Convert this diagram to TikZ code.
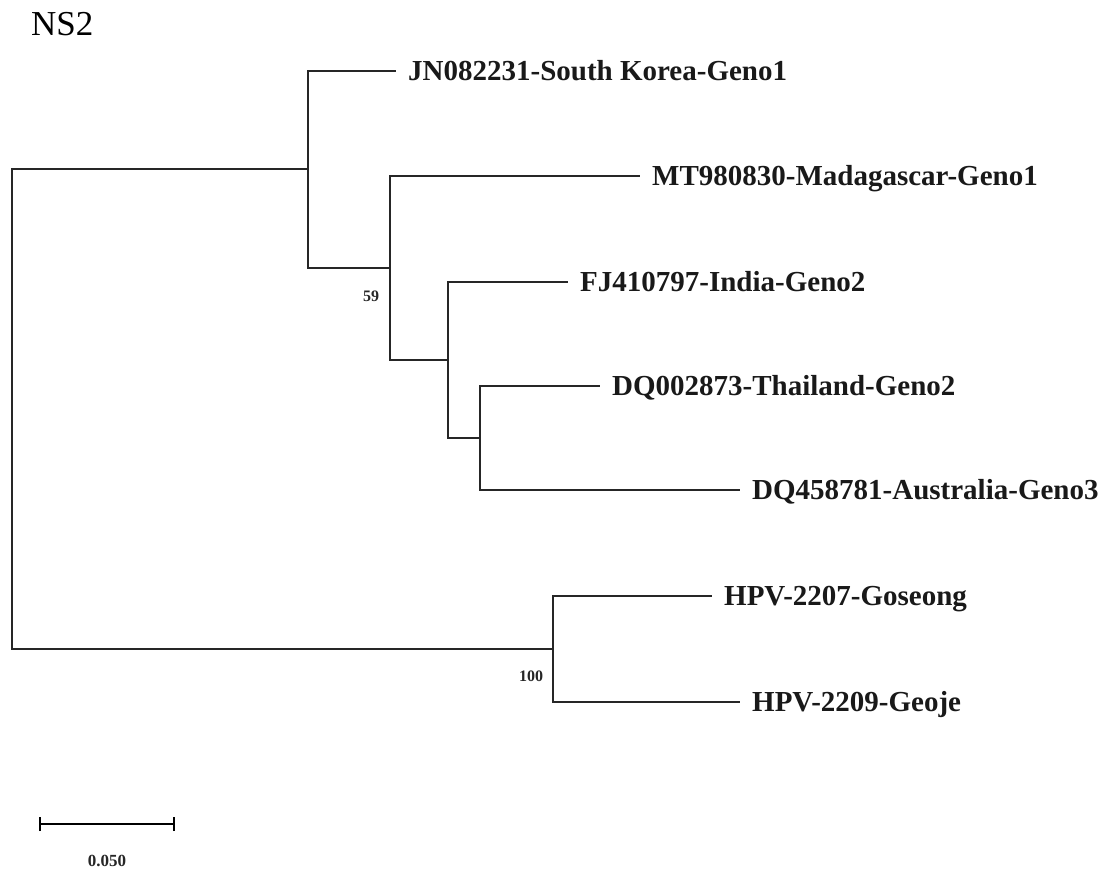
\documentclass[tikz,border=0pt]{standalone}
\usepackage{fontspec}
\setmainfont{Liberation Serif}
\begin{document}
\begin{tikzpicture}[x=1pt,y=-1pt,
  edge/.style={draw=black!85, line width=1.7pt},
  leaf/.style={anchor=base west, inner sep=0pt, xshift=12pt, yshift=-9.5pt, font=\fontsize{29}{29}\selectfont\bfseries, text=black!90},
  boot/.style={inner sep=0pt, font=\fontsize{16}{16}\selectfont\bfseries, text=black!85},
  title/.style={anchor=base west, inner sep=0pt, font=\fontsize{35}{35}\selectfont}]
\useasboundingbox (0,0) rectangle (1103,873);
\node[title] (ttl) at (31,35) {NS2};
% internal nodes
\coordinate (root) at (12,409);
\coordinate (A) at (308,169);
\coordinate (B) at (390,268);
\coordinate (C) at (448,360);
\coordinate (D) at (480,438);
\coordinate (E) at (553,649);
% leaf tips
\coordinate (t1) at (396,71);
\coordinate (t2) at (640,176);
\coordinate (t3) at (568,282);
\coordinate (t4) at (600,386);
\coordinate (t5) at (740,490);
\coordinate (t6) at (712,596);
\coordinate (t7) at (740,702);
% edges
\draw[edge] (root) |- (A);
\draw[edge] (root) |- (E);
\draw[edge] (A) |- (t1);
\draw[edge] (A) |- (B);
\draw[edge] (B) |- (t2);
\draw[edge] (B) |- (C);
\draw[edge] (C) |- (t3);
\draw[edge] (C) |- (D);
\draw[edge] (D) |- (t4);
\draw[edge] (D) |- (t5);
\draw[edge] (E) |- (t6);
\draw[edge] (E) |- (t7);
% labels
\node[leaf] (l1) at (t1) {JN082231-South Korea-Geno1};
\node[leaf] (l2) at (t2) {MT980830-Madagascar-Geno1};
\node[leaf] (l3) at (t3) {FJ410797-India-Geno2};
\node[leaf] (l4) at (t4) {DQ002873-Thailand-Geno2};
\node[leaf] (l5) at (t5) {DQ458781-Australia-Geno3};
\node[leaf] (l6) at (t6) {HPV-2207-Goseong};
\node[leaf] (l7) at (t7) {HPV-2209-Geoje};
% bootstrap
\node[boot] (b59) at (371,296) {59};
\node[boot] (b100) at (531,676) {100};
% scale bar
\coordinate (s1) at (40,824);
\coordinate (s2) at (174,824);
\draw[line width=2.6pt] (s1) -- (s2);
\draw[line width=2.6pt] ([yshift=-7pt]s1) -- ([yshift=7pt]s1);
\draw[line width=2.6pt] ([yshift=-7pt]s2) -- ([yshift=7pt]s2);
\node[boot, font=\fontsize{17}{17}\selectfont\bfseries] (sl) at (107,861) {0.050};
\end{tikzpicture}
\end{document}
